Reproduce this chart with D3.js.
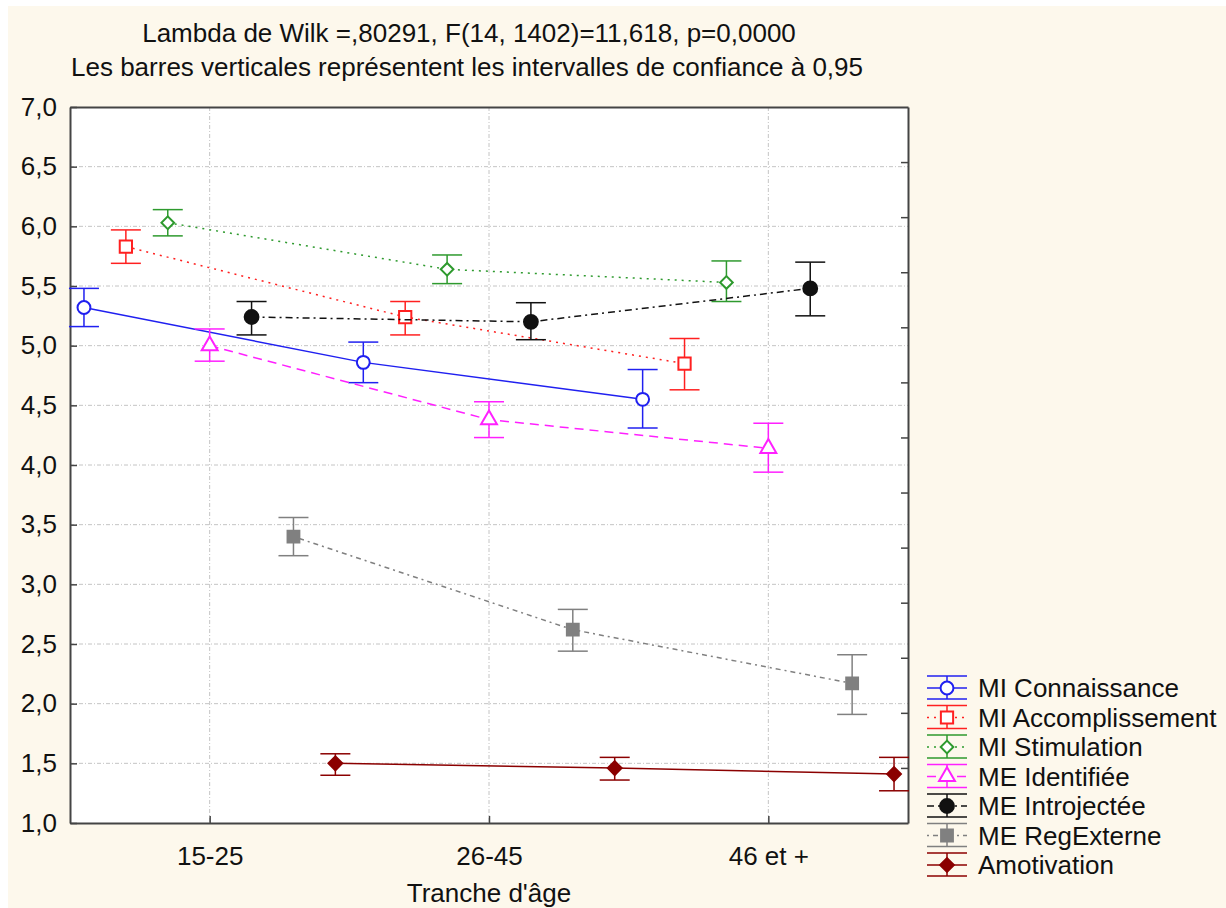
<!DOCTYPE html>
<html>
<head>
<meta charset="utf-8">
<script src="https://cdn.jsdelivr.net/npm/d3@7"></script>
<style>
  body { margin: 0; background: #fff; }
  text { font-family: "Liberation Sans", Arial, sans-serif; fill: #111; }
</style>
</head>
<body>
<svg></svg>
<script>
let width = 1226;
let height = 908;

// data
let categories = ['15-25', '26-45', '46 et +'];
let seriesNames = ['MI Connaissance', 'MI Accomplissement', 'MI Stimulation',
    'ME Identifiée', 'ME Introjectée', 'ME RegExterne', 'Amotivation'];
let means = [
    [5.32, 4.86, 4.55],
    [5.83, 5.24, 4.85],
    [6.03, 5.64, 5.53],
    [5.00, 4.38, 4.14],
    [5.24, 5.20, 5.48],
    [3.40, 2.62, 2.17],
    [1.50, 1.46, 1.41]
];
let lower = [
    [5.16, 4.69, 4.31],
    [5.69, 5.09, 4.63],
    [5.92, 5.52, 5.37],
    [4.87, 4.23, 3.94],
    [5.09, 5.05, 5.25],
    [3.24, 2.44, 1.91],
    [1.40, 1.36, 1.27]
];
let upper = [
    [5.48, 5.03, 4.80],
    [5.97, 5.37, 5.06],
    [6.14, 5.76, 5.71],
    [5.14, 4.53, 4.35],
    [5.37, 5.36, 5.70],
    [3.56, 2.79, 2.41],
    [1.58, 1.55, 1.55]
];
let yTicks = [1.0, 1.5, 2.0, 2.5, 3.0, 3.5, 4.0, 4.5, 5.0, 5.5, 6.0, 6.5, 7.0];

let colors = ['#2020f0', '#ff2020', '#2e9a2e', '#ff20ff', '#111111', '#808080', '#8b0000'];
let dashes = [null, '2,5', '2,5', '9,6', '7,4,2,4', '2,4,5,4', null];
// diamonds are squares turned 45 degrees
let symbols = [d3.symbolCircle, d3.symbolSquare, d3.symbolSquare, d3.symbolTriangle,
    d3.symbolCircle, d3.symbolSquare, d3.symbolSquare];
let rotations = [0, 0, 45, 0, 0, 0, 45];
let sizes = [130, 150, 80, 110, 150, 140, 95];
let filled = [false, false, false, false, true, true, true];

let fontSize = 26;

let svg = d3.select('svg')
    .attr('width', width)
    .attr('height', height)

svg.append('rect')
    .attr('x', 8)
    .attr('y', 6)
    .attr('width', width - 8)
    .attr('height', height - 6)
    .attr('fill', '#fdf8ec')

let plotL = 70, plotR = 908, plotT = 107, plotB = 823;

let x = d3.scaleLinear()
    .domain([0.5, 3.5])
    .range([plotL, plotR]);

let y = d3.scaleLinear()
    .domain([1, 7])
    .range([plotB, plotT]);

svg.append('rect')
    .attr('x', plotL)
    .attr('y', plotT)
    .attr('width', plotR - plotL)
    .attr('height', plotB - plotT)
    .attr('fill', '#fff')

// grid
let grid = svg.append('g')
    .attr('stroke', '#c4c4c4')
    .attr('stroke-width', 1)
    .attr('stroke-dasharray', '4,2,1,2');
grid.selectAll('line.h')
    .data(yTicks.slice(1, -1))
    .enter()
    .append('line')
    .attr('x1', plotL)
    .attr('x2', plotR)
    .attr('y1', d => y(d))
    .attr('y2', d => y(d));
grid.selectAll('line.v')
    .data(categories)
    .enter()
    .append('line')
    .attr('x1', (d, i) => x(i + 1))
    .attr('x2', (d, i) => x(i + 1))
    .attr('y1', plotT)
    .attr('y2', plotB);

// axes
let fmt = d => d3.format('.1f')(d).replace('.', ',');

let yAxis = d3.axisLeft(y)
    .tickValues(yTicks)
    .tickFormat(fmt)
    .tickSizeInner(-7)
    .tickSizeOuter(0)
    .tickPadding(13);
let gy = svg.append('g')
    .attr('transform', 'translate(' + plotL + ',0)')
    .call(yAxis);

let xAxis = d3.axisBottom(x)
    .tickValues([1, 2, 3])
    .tickFormat((d, i) => categories[i])
    .tickSizeInner(-7)
    .tickSizeOuter(0)
    .tickPadding(24);
let gx = svg.append('g')
    .attr('transform', 'translate(0,' + plotB + ')')
    .call(xAxis);

// right axis has its own 13 steps, no labels
let yRight = d3.scaleLinear().domain([0, 13]).range([plotB, plotT]);
let gr = svg.append('g')
    .attr('transform', 'translate(' + plotR + ',0)')
    .call(d3.axisRight(yRight).tickValues(d3.range(1, 13)).tickFormat('')
        .tickSizeInner(-7).tickSizeOuter(0));

let gt = svg.append('g')
    .attr('transform', 'translate(' + plotL + ',' + plotT + ')')
    .call(d3.axisTop(d3.scaleLinear().range([0, plotR - plotL])).tickValues([]).tickSizeOuter(0));

[gy, gx, gr, gt].forEach(g => {
    g.selectAll('.domain').attr('stroke', '#444').attr('stroke-width', 2);
    g.selectAll('.tick line').attr('stroke', '#444').attr('stroke-width', 1.5);
    g.selectAll('.tick text').attr('font-size', fontSize).attr('fill', '#111')
        .attr('font-family', '"Liberation Sans", Arial, sans-serif');
});

function marker(g, s, cx, cy) {
    g.append('path')
        .attr('d', d3.symbol().type(symbols[s]).size(sizes[s])())
        .attr('transform', 'translate(' + cx + ',' + cy + ') rotate(' + rotations[s] + ')')
        .attr('fill', filled[s] ? colors[s] : '#fff')
        .attr('stroke', colors[s])
        .attr('stroke-width', 2);
}

// series
let offset = i => (i - 3) * 0.15;

seriesNames.forEach((name, s) => {
    let g = svg.append('g');
    let pts = means[s].map((m, i) => [x(i + 1 + offset(s)), y(m)]);

    g.append('path')
        .attr('d', d3.line()(pts))
        .attr('fill', 'none')
        .attr('stroke', colors[s])
        .attr('stroke-width', 1.5)
        .attr('stroke-dasharray', dashes[s]);

    means[s].forEach((m, i) => {
        let cx = x(i + 1 + offset(s));
        g.append('line')
            .attr('x1', cx).attr('x2', cx)
            .attr('y1', y(lower[s][i])).attr('y2', y(upper[s][i]))
            .attr('stroke', colors[s]).attr('stroke-width', 1.5);
        [lower[s][i], upper[s][i]].forEach(v => {
            g.append('line')
                .attr('x1', cx - 15).attr('x2', cx + 15)
                .attr('y1', y(v)).attr('y2', y(v))
                .attr('stroke', colors[s]).attr('stroke-width', 1.5);
        });
        marker(g, s, cx, y(m));
    });
});

// titles
svg.append('text')
    .attr('x', 469)
    .attr('y', 42)
    .attr('text-anchor', 'middle')
    .attr('font-size', fontSize)
    .text('Lambda de Wilk =,80291, F(14, 1402)=11,618, p=0,0000');
svg.append('text')
    .attr('x', 467)
    .attr('y', 76)
    .attr('text-anchor', 'middle')
    .attr('font-size', fontSize)
    .text('Les barres verticales représentent les intervalles de confiance à 0,95');
svg.append('text')
    .attr('x', 489)
    .attr('y', 902)
    .attr('text-anchor', 'middle')
    .attr('font-size', fontSize)
    .text("Tranche d'âge");

// legend
let legend = svg.append('g')
    .attr('transform', 'translate(927,688)');
seriesNames.forEach((name, s) => {
    let g = legend.append('g')
        .attr('transform', 'translate(0,' + (s * 29.5) + ')');
    g.append('line')
        .attr('x1', 0).attr('x2', 40).attr('y1', 0).attr('y2', 0)
        .attr('stroke', colors[s]).attr('stroke-width', 1.5)
        .attr('stroke-dasharray', dashes[s]);
    g.append('line')
        .attr('x1', 20).attr('x2', 20).attr('y1', -12).attr('y2', 11)
        .attr('stroke', colors[s]).attr('stroke-width', 1.5);
    [-12, 11].forEach(v => {
        g.append('line')
            .attr('x1', 0).attr('x2', 40).attr('y1', v).attr('y2', v)
            .attr('stroke', colors[s]).attr('stroke-width', 1.5);
    });
    marker(g, s, 20, 0);
    g.append('text')
        .attr('x', 51)
        .attr('y', 9)
        .attr('font-size', fontSize)
        .text(name);
});
</script>
</body>
</html>
